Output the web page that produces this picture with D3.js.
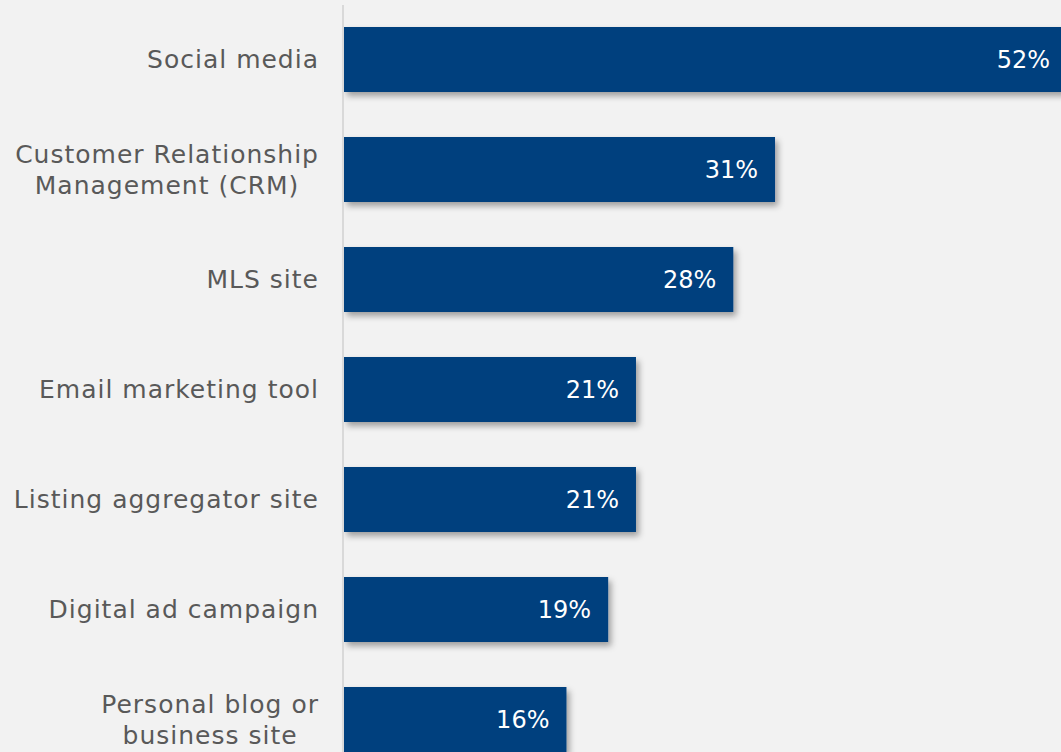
<!DOCTYPE html>
<html>
<head>
<meta charset="utf-8">
<script src="https://cdn.jsdelivr.net/npm/d3@7"></script>
<style>
  html, body { margin: 0; padding: 0; background: #f2f2f2; }
  svg { display: block; }
</style>
</head>
<body>
<div id="chart"></div>
<script>
// Share of respondents using each tool
const categories = [
  ["Social media"],
  ["Customer Relationship", "Management (CRM)"],
  ["MLS site"],
  ["Email marketing tool"],
  ["Listing aggregator site"],
  ["Digital ad campaign"],
  ["Personal blog or", "business site"]
];
const values = [52, 31, 28, 21, 21, 19, 16];

const W = 1061, H = 752;
const axisX = 344;
const labelRight = 319;

const svg = d3.select("#chart").append("svg")
  .attr("width", W).attr("height", H);

svg.append("rect").attr("width", W).attr("height", H).attr("fill", "#f2f2f2");

const defs = svg.append("defs");
const f = defs.append("filter").attr("id", "shadow")
  .attr("x", "-5%").attr("y", "-20%").attr("width", "115%").attr("height", "150%");
f.append("feDropShadow")
  .attr("dx", 3).attr("dy", 4).attr("stdDeviation", 3)
  .attr("flood-color", "#000").attr("flood-opacity", 0.35);

const x = d3.scaleLinear().domain([0, 52]).range([axisX, axisX + 723]);
const y = d3.scaleBand()
  .domain(d3.range(categories.length))
  .range([27, 752])
  .paddingInner(45 / 110)
  .paddingOuter(0)
  .align(0);

// Bars
svg.append("g").selectAll("rect")
  .data(values)
  .join("rect")
  .attr("x", x(0))
  .attr("y", (d, i) => y(i))
  .attr("width", d => x(d) - x(0))
  .attr("height", y.bandwidth())
  .attr("fill", "#00417e")
  .attr("filter", "url(#shadow)");

// Vertical baseline
svg.append("line")
  .attr("x1", axisX - 1).attr("x2", axisX - 1)
  .attr("y1", 5).attr("y2", H)
  .attr("stroke", "#d9d9d9").attr("stroke-width", 2);

// Category labels: each block right-aligned, lines centred within the block
const font = "'DejaVu Sans', sans-serif";
const lab = svg.append("g").selectAll("text")
  .data(categories)
  .join("text")
  .attr("text-anchor", "middle")
  .attr("font-family", font)
  .attr("font-size", 25)
  .attr("letter-spacing", 1)
  .attr("fill", "#595959");
lab.each(function(lines, i) {
  const cy = y(i) + y.bandwidth() / 2;
  const lh = 31;
  const t = d3.select(this);
  const spans = lines.map((ln, j) => t.append("tspan")
      .attr("y", cy + (j - (lines.length - 1) / 2) * lh)
      .attr("dy", "0.35em")
      .text(ln));
  const maxW = d3.max(spans, s => s.node().getComputedTextLength());
  spans.forEach(s => s.attr("x", labelRight - maxW / 2));
});

// Value labels
svg.append("g").selectAll("text")
  .data(values)
  .join("text")
  .attr("x", d => x(d) - 17)
  .attr("y", (d, i) => y(i) + y.bandwidth() / 2)
  .attr("dy", "0.35em")
  .attr("text-anchor", "end")
  .attr("font-family", font)
  .attr("font-size", 24)
  .attr("fill", "#ffffff")
  .text(d => d + "%");
</script>
</body>
</html>
